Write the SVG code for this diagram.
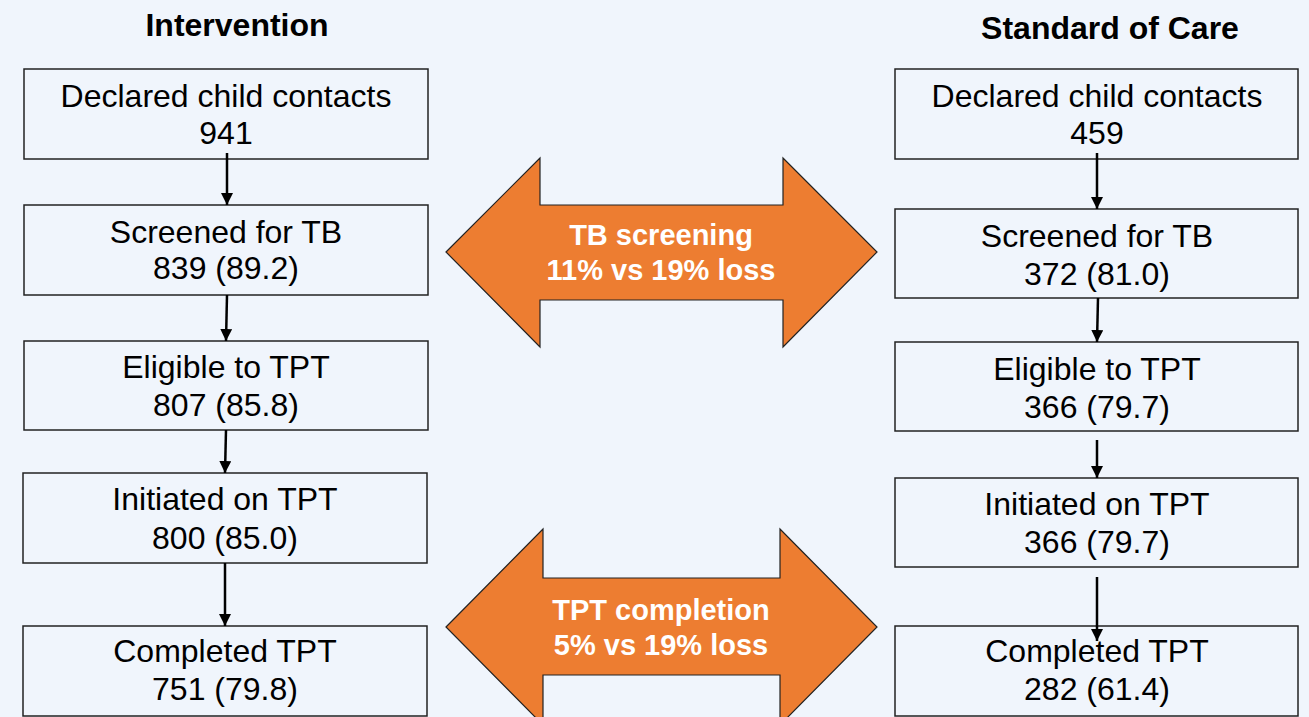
<svg xmlns="http://www.w3.org/2000/svg" width="1309" height="717" viewBox="0 0 1309 717">
<defs>
<style>
.bg{fill:#F0F5FC}
.box{fill:none;stroke:#222;stroke-width:1.5}
.t{font-family:"Liberation Sans",Arial,sans-serif;font-size:32px;fill:#000;text-anchor:middle}
.h{font-family:"Liberation Sans",Arial,sans-serif;font-size:32px;font-weight:bold;fill:#000;text-anchor:middle}
.big{fill:#ED7D31;stroke:#222;stroke-width:1.2}
.bt{font-family:"Liberation Sans",Arial,sans-serif;font-size:29px;font-weight:bold;fill:#fff;text-anchor:middle}
.c{stroke:#000;stroke-width:2.5;fill:none;marker-end:url(#ah)}
</style>
<marker id="ah" markerUnits="userSpaceOnUse" markerWidth="12" markerHeight="12" viewBox="0 0 12 12" refX="12" refY="6" orient="auto">
<path d="M0,0 L12,6 L0,12 Z" fill="#000"/>
</marker>
</defs>
<rect class="bg" x="0" y="0" width="1309" height="717"/>
<text class="h" x="237" y="36">Intervention</text>
<text class="h" x="1110" y="39">Standard of Care</text>

<g id="i1"><rect class="box" x="24" y="69" width="404" height="90"/><text class="t" x="226" y="107">Declared child contacts</text><text class="t" x="226" y="144">941</text></g>
<g id="i2"><rect class="box" x="24" y="205" width="404" height="90"/><text class="t" x="226" y="243">Screened for TB</text><text class="t" x="226" y="279">839 (89.2)</text></g>
<g id="i3"><rect class="box" x="24" y="341" width="404" height="89"/><text class="t" x="226" y="378">Eligible to TPT</text><text class="t" x="226" y="416">807 (85.8)</text></g>
<g id="i4"><rect class="box" x="23" y="473" width="404" height="90"/><text class="t" x="225" y="510">Initiated on TPT</text><text class="t" x="225" y="549">800 (85.0)</text></g>
<g id="i5"><rect class="box" x="23" y="626" width="404" height="90"/><text class="t" x="225" y="662">Completed TPT</text><text class="t" x="225" y="700">751 (79.8)</text></g>

<g id="s1"><rect class="box" x="895" y="69" width="403" height="90"/><text class="t" x="1097" y="107">Declared child contacts</text><text class="t" x="1097" y="144">459</text></g>
<g id="s2"><rect class="box" x="895" y="209" width="403" height="89"/><text class="t" x="1097" y="247">Screened for TB</text><text class="t" x="1097" y="285">372 (81.0)</text></g>
<g id="s3"><rect class="box" x="895" y="342" width="403" height="89"/><text class="t" x="1097" y="380">Eligible to TPT</text><text class="t" x="1097" y="418">366 (79.7)</text></g>
<g id="s4"><rect class="box" x="895" y="478" width="403" height="89"/><text class="t" x="1097" y="515">Initiated on TPT</text><text class="t" x="1097" y="553">366 (79.7)</text></g>
<g id="s5"><rect class="box" x="895" y="626" width="403" height="90"/><text class="t" x="1097" y="662">Completed TPT</text><text class="t" x="1097" y="700">282 (61.4)</text></g>

<g id="a1"><polygon class="big" points="446,252 540,158 540,205 783,205 783,158 877,252 783,347 783,300 540,300 540,347"/><text class="bt" x="661" y="245">TB screening</text><text class="bt" x="661" y="280">11% vs 19% loss</text></g>
<g id="a2"><polygon class="big" points="446,627 543,529 543,578 780,578 780,529 877,627 780,725 780,675 543,675 543,725"/><text class="bt" x="661" y="620">TPT completion</text><text class="bt" x="661" y="655">5% vs 19% loss</text></g>

<g id="connectors">
<line class="c" x1="227" y1="153" x2="227" y2="205"/>
<line class="c" x1="227" y1="295" x2="226" y2="341"/>
<line class="c" x1="226" y1="430" x2="225" y2="473"/>
<line class="c" x1="225" y1="563" x2="225" y2="626"/>
<line class="c" x1="1097" y1="153" x2="1097" y2="209"/>
<line class="c" x1="1098" y1="298" x2="1097" y2="342"/>
<line class="c" x1="1097" y1="440" x2="1097" y2="478"/>
<line class="c" x1="1097" y1="577" x2="1097" y2="641"/>
</g>
</svg>
